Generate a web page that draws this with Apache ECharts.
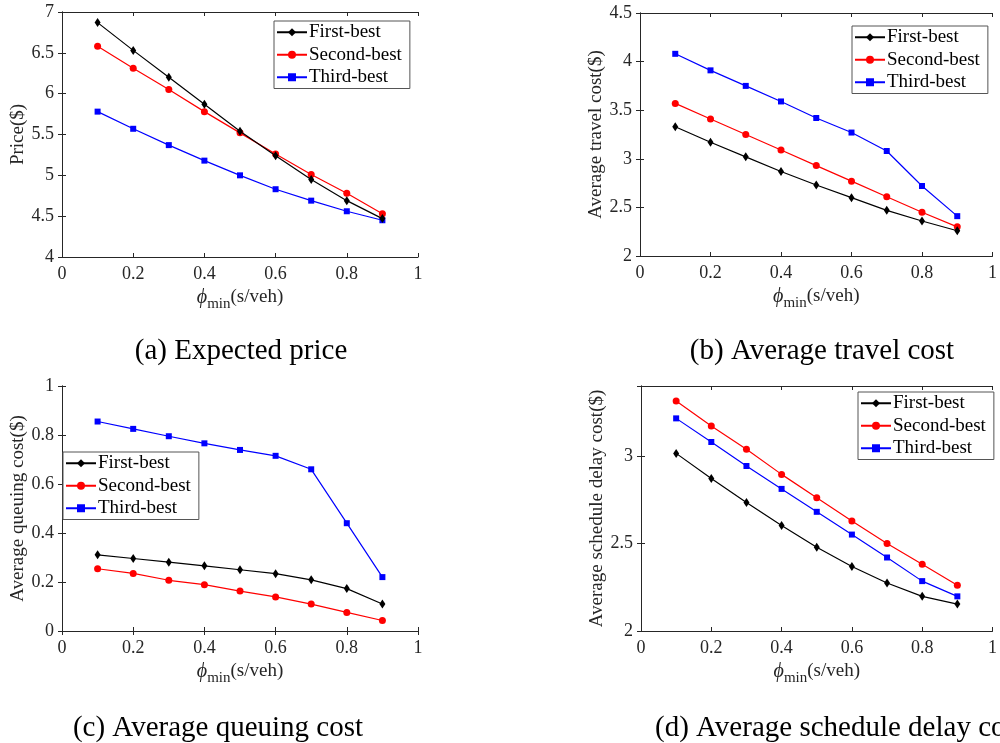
<!DOCTYPE html>
<html>
<head>
<meta charset="utf-8">
<script src="https://cdn.jsdelivr.net/npm/echarts@6/dist/echarts.min.js"></script>
<style>
  html, body { margin: 0; padding: 0; background: #fff; }
  #main { width: 1000px; height: 743px; }
</style>
</head>
<body>
<div id="main"></div>
<script>
// phi_min values (s/veh)
const phiMin = [0.1, 0.2, 0.3, 0.4, 0.5, 0.6, 0.7, 0.8, 0.9];

// (a) expected price
const priceFirst = [6.87, 6.53, 6.20, 5.87, 5.54, 5.24, 4.95, 4.69, 4.47];
const priceSecond = [6.58, 6.31, 6.05, 5.78, 5.52, 5.26, 5.01, 4.78, 4.53];
const priceThird = [5.78, 5.57, 5.37, 5.18, 5.00, 4.83, 4.69, 4.56, 4.45];

// (b) average travel cost
const travelFirst = [3.33, 3.17, 3.02, 2.87, 2.73, 2.60, 2.47, 2.36, 2.26];
const travelSecond = [3.57, 3.41, 3.25, 3.09, 2.93, 2.77, 2.61, 2.45, 2.30];
const travelThird = [4.08, 3.91, 3.75, 3.59, 3.42, 3.27, 3.08, 2.72, 2.41];

// (c) average queuing cost
const queueFirst = [0.311, 0.296, 0.281, 0.266, 0.250, 0.234, 0.209, 0.173, 0.110];
const queueSecond = [0.254, 0.235, 0.207, 0.189, 0.163, 0.139, 0.110, 0.076, 0.043];
const queueThird = [0.855, 0.825, 0.795, 0.766, 0.739, 0.715, 0.660, 0.440, 0.220];

// (d) average schedule delay cost
const delayFirst = [3.015, 2.871, 2.734, 2.603, 2.479, 2.369, 2.274, 2.198, 2.154];
const delaySecond = [3.314, 3.171, 3.038, 2.895, 2.762, 2.629, 2.500, 2.382, 2.262];
const delayThird = [3.215, 3.080, 2.943, 2.812, 2.681, 2.551, 2.420, 2.285, 2.198];

const seriesNames = ['First-best', 'Second-best', 'Third-best'];
const yNames = ['Price($)', 'Average travel cost($)', 'Average queuing cost($)', 'Average schedule delay cost($)'];
const captions = ['(a) Expected price', '(b) Average travel cost', '(c) Average queuing cost', '(d) Average schedule delay cost'];
const yRanges = [[4, 7, 0.5], [2, 4.5, 0.5], [0, 1, 0.2], [2, 3.4, 0.5]];
const panelData = [
  [priceFirst, priceSecond, priceThird],
  [travelFirst, travelSecond, travelThird],
  [queueFirst, queueSecond, queueThird],
  [delayFirst, delaySecond, delayThird]
];

const FONT = '"Liberation Serif", "Times New Roman", serif';
const AXIS_COLOR = '#262626';

const grids = [
  { left: 62, top: 12, width: 356, height: 245 },
  { left: 640, top: 13, width: 357, height: 243 },
  { left: 62, top: 386, width: 356, height: 245 },
  { left: 641, top: 386, width: 356, height: 245 }
];
const legendPos = [
  { left: 274, top: 21 },
  { left: 852, top: 26 },
  { left: 63, top: 452 },
  { left: 858, top: 392 }
];
// x, y, align
const captionPos = [[241, 351, 'center'], [822, 351, 'center'], [218, 728, 'center'], [655, 728, 'left']];

const styles = [
  { color: '#000000', symbol: 'diamond', symbolSize: [6, 9] },
  { color: '#ff0000', symbol: 'circle', symbolSize: 7 },
  { color: '#0000ff', symbol: 'rect', symbolSize: 6 }
];

const xAxes = [];
const yAxes = [];
const series = [];
const legends = [];
const graphics = [];

for (let p = 0; p < 4; p++) {
  const yr = yRanges[p];
  // bottom x axis with labels
  xAxes.push({
    type: 'value', gridIndex: p, min: 0, max: 1, interval: 0.2,
    name: '{phi|ϕ}{sub|min}{t|(s/veh)}',
    nameLocation: 'middle', nameGap: 26,
    nameTextStyle: {
      color: AXIS_COLOR,
      rich: {
        phi: { fontFamily: FONT, fontStyle: 'italic', fontSize: 20, color: AXIS_COLOR },
        sub: { fontFamily: FONT, fontSize: 15, color: AXIS_COLOR, padding: [14, 0, 0, 0] },
        t: { fontFamily: FONT, fontSize: 19, color: AXIS_COLOR }
      }
    },
    axisLine: { lineStyle: { color: AXIS_COLOR, width: 1 } },
    axisTick: { inside: true, length: 4, lineStyle: { color: AXIS_COLOR } },
    axisLabel: { fontFamily: FONT, fontSize: 18, color: AXIS_COLOR, margin: 8 },
    splitLine: { show: false }
  });
  // top x axis closes the box
  xAxes.push({
    type: 'value', gridIndex: p, position: 'top', min: 0, max: 1, interval: 0.2,
    axisLine: { lineStyle: { color: AXIS_COLOR, width: 1 } },
    axisTick: { inside: true, length: 4, lineStyle: { color: AXIS_COLOR } },
    axisLabel: { show: false },
    splitLine: { show: false }
  });
  yAxes.push({
    type: 'value', gridIndex: p, min: yr[0], max: yr[1], interval: yr[2],
    name: yNames[p], nameLocation: 'middle', nameGap: 30,
    nameTextStyle: { fontFamily: FONT, fontSize: 19, color: AXIS_COLOR },
    axisLine: { show: true, lineStyle: { color: AXIS_COLOR, width: 1 } },
    axisTick: { show: true, inside: true, length: 4, lineStyle: { color: AXIS_COLOR } },
    axisLabel: { fontFamily: FONT, fontSize: 18, color: AXIS_COLOR, margin: 8, showMaxLabel: p !== 3 },
    splitLine: { show: false }
  });
  // right y axis closes the box
  yAxes.push({
    type: 'value', gridIndex: p, position: 'right', min: yr[0], max: yr[1], interval: yr[2],
    axisLine: { show: true, lineStyle: { color: AXIS_COLOR, width: 1 } },
    axisTick: { show: true, inside: true, length: 4, lineStyle: { color: AXIS_COLOR } },
    axisLabel: { show: false },
    splitLine: { show: false }
  });

  for (let s = 0; s < 3; s++) {
    series.push({
      name: seriesNames[s],
      type: 'line',
      xAxisIndex: p * 2,
      yAxisIndex: p * 2,
      data: phiMin.map((x, i) => [x, panelData[p][s][i]]),
      symbol: styles[s].symbol,
      symbolSize: styles[s].symbolSize,
      showAllSymbol: true,
      lineStyle: { color: styles[s].color, width: 1.2 },
      itemStyle: { color: styles[s].color, borderWidth: 0 },
      z: 3 - s
    });
  }

  legends.push({
    orient: 'vertical',
    left: legendPos[p].left,
    top: legendPos[p].top,
    data: seriesNames,
    itemWidth: 30,
    itemHeight: 10,
    itemGap: 2,
    padding: [1, 8, 1, 2],
    backgroundColor: '#ffffff',
    borderColor: '#555555',
    borderWidth: 1,
    borderRadius: 0,
    selectedMode: false,
    textStyle: { fontFamily: FONT, fontSize: 19, color: '#000', lineHeight: 20.5, padding: [0, 0, 0, -3] }
  });

  graphics.push({
    type: 'text',
    x: captionPos[p][0],
    y: captionPos[p][1],
    style: {
      text: captions[p],
      font: '29px ' + FONT,
      fill: '#000',
      textAlign: captionPos[p][2],
      textVerticalAlign: 'middle'
    }
  });
}

const myChart = echarts.init(document.getElementById('main'));
const option = {
  backgroundColor: '#ffffff',
  animation: false,
  grid: grids,
  xAxis: xAxes,
  yAxis: yAxes,
  legend: legends,
  series: series,
  graphic: graphics
};
myChart.setOption(option);
window.addEventListener('resize', () => {
  myChart.resize();
});
</script>
</body>
</html>
